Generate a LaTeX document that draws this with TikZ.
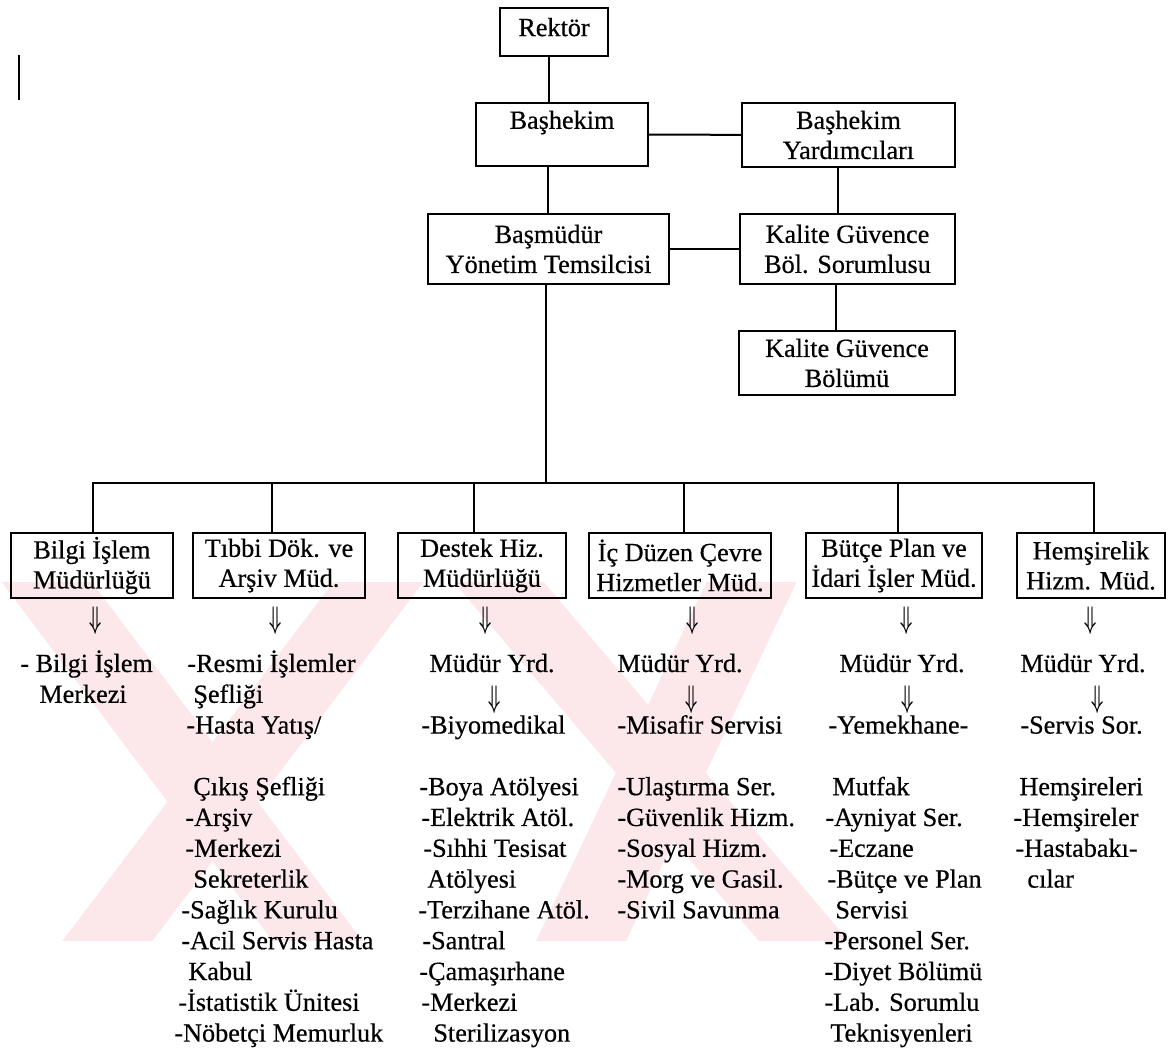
\documentclass[tikz,border=0pt]{standalone}
\usepackage{fontspec}
\setmainfont[FakeBold=0.5]{Liberation Serif}
\definecolor{wm}{RGB}{252,231,235}
\tikzset{
  box/.style={draw, line width=1pt, inner sep=0pt, align=center,
    font=\fontsize{13.1pt}{15pt}\selectfont},
  lst/.style={inner sep=0pt, anchor=base west,
    font=\fontsize{13.1pt}{15.4pt}\selectfont},
  dar/.style={inner sep=0pt, font=\fontsize{13.1pt}{15.4pt}\selectfont},
  conn/.style={line width=1pt},
  wmark/.style={fill=wm, draw=none},
}
\newcommand\li[4]{\node[lst] (#1) at (#2,#3) {#4};}
\newcommand\dn{\scalebox{0.72}[1.3]{\boldmath$\Downarrow$}}
\begin{document}
\begin{tikzpicture}[x=0.5pt,y=-0.5pt]
\useasboundingbox (0,0) rectangle (1173,1052);
% watermark
\begin{scope}
\clip (0,583) rectangle (1173,940);
\fill[wmark] (-15,560) -- (75,560) -- (377,960) -- (287,960) -- cycle;
\fill[wmark] (350,560) -- (440,560) -- (138,960) -- (48,960) -- cycle;
\fill[wmark] (435,560) -- (525,560) -- (865,960) -- (775,960) -- cycle;
\fill[wmark] (717,560) -- (807,560) -- (617,960) -- (527,960) -- cycle;
\end{scope}
% stray mark
\coordinate (s1) at (19,55);
\coordinate (s2) at (19,100);
\draw[line width=1pt] (s1) -- (s2);
% top boxes
\node[box, minimum width=54pt, minimum height=24pt, text depth=5pt] (rektor) at (554,32) {Rektör};
\node[box, minimum width=86pt, minimum height=31.5pt] (bashekim) at (562,134.5) {\raisebox{-3pt}{Başhekim}\\\phantom{Başhekim}};
\node[box, minimum width=106.5pt, minimum height=32pt] (yard) at (848.5,135) {Başhekim\\Yardımcıları};
\node[box, minimum width=120.5pt, minimum height=35pt] (basmudur) at (548.5,249) {Başmüdür\\Yönetim Temsilcisi};
\node[box, minimum width=107.5pt, minimum height=35pt] (kgbs) at (847.5,249) {Kalite Güvence\\Böl. Sorumlusu};
\node[box, minimum width=108pt, minimum height=32pt] (kgb) at (847,363) {Kalite Güvence\\Bölümü};
% bottom boxes
\node[box, minimum width=81pt, minimum height=32.5pt] (b1) at (92,565.5) {Bilgi İşlem\\Müdürlüğü};
\node[box, minimum width=86pt, minimum height=32.5pt] (b2) at (279,565.5) {Tıbbi Dök. ve\\Arşiv Müd.};
\node[box, minimum width=84pt, minimum height=32.5pt] (b3) at (482,565.5) {Destek Hiz.\\Müdürlüğü};
\node[box, minimum width=91pt, minimum height=32.5pt] (b4) at (680,565.5) {İç Düzen Çevre\\Hizmetler Müd.};
\node[box, minimum width=88pt, minimum height=32.5pt] (b5) at (894,565.5) {Bütçe Plan ve\\İdari İşler Müd.};
\node[box, minimum width=74pt, minimum height=32.5pt] (b6) at (1091,565.5) {Hemşirelik\\Hizm. Müd.};
% connectors
\draw[conn] (549,0 |- rektor.south) -- (549,0 |- bashekim.north);
\draw[conn] (bashekim) -- (yard);
\draw[conn] (548,0 |- bashekim.south) -- (548,0 |- basmudur.north);
\draw[conn] (838,0 |- yard.south) -- (838,0 |- kgbs.north);
\draw[conn] (basmudur) -- (kgbs);
\draw[conn] (836,0 |- kgbs.south) -- (836,0 |- kgb.north);
\coordinate (bus) at (546,483);
\coordinate (busL) at (93,483);
\coordinate (busR) at (1094,483);
\draw[conn] (546,0 |- basmudur.south) -- (bus);
\draw[conn] (93,0 |- b1.north) -- (busL) -- (busR) -- (1094,0 |- b6.north);
\draw[conn] (272,483) -- (272,0 |- b2.north);
\draw[conn] (474,483) -- (474,0 |- b3.north);
\draw[conn] (684,483) -- (684,0 |- b4.north);
\draw[conn] (898,483) -- (898,0 |- b5.north);
% arrows under boxes
\node[dar] (a1) at (96,621) {\dn};
\node[dar] (a2) at (276,621) {\dn};
\node[dar] (a3) at (486,621) {\dn};
\node[dar] (a4) at (693,621) {\dn};
\node[dar] (a5) at (907,621) {\dn};
\node[dar] (a6) at (1091,621) {\dn};
% column 1
\li{c1a}{20}{672}{- Bilgi İşlem}
\li{c1b}{39}{702.8}{Merkezi}
% column 2
\li{c2a}{187}{672}{-Resmi İşlemler}
\li{c2b}{193}{702.8}{Şefliği}
\li{c2c}{186}{733.6}{-Hasta Yatış/}
\li{c2d}{193}{795.2}{Çıkış Şefliği}
\li{c2e}{185}{826}{-Arşiv}
\li{c2f}{185}{856.8}{-Merkezi}
\li{c2g}{193}{887.6}{Sekreterlik}
\li{c2h}{181}{918.4}{-Sağlık Kurulu}
\li{c2i}{181}{949.2}{-Acil Servis Hasta}
\li{c2j}{188}{980}{Kabul}
\li{c2k}{178}{1010.8}{-İstatistik Ünitesi}
\li{c2l}{174}{1041.6}{-Nöbetçi Memurluk}
% column 3
\li{c3a}{429}{672}{Müdür Yrd.}
\node[dar] (c3arr) at (495,700) {\dn};
\li{c3b}{421}{733.6}{-Biyomedikal}
\li{c3c}{419}{795.2}{-Boya Atölyesi}
\li{c3d}{421}{826}{-Elektrik Atöl.}
\li{c3e}{423}{856.8}{-Sıhhi Tesisat}
\li{c3f}{427}{887.6}{Atölyesi}
\li{c3g}{418}{918.4}{-Terzihane Atöl.}
\li{c3h}{422}{949.2}{-Santral}
\li{c3i}{419}{980}{-Çamaşırhane}
\li{c3j}{421}{1010.8}{-Merkezi}
\li{c3k}{433}{1041.6}{Sterilizasyon}
% column 4
\li{c4a}{617}{672}{Müdür Yrd.}
\node[dar] (c4arr) at (692,700) {\dn};
\li{c4b}{617}{733.6}{-Misafir Servisi}
\li{c4c}{617}{795.2}{-Ulaştırma Ser.}
\li{c4d}{617}{826}{-Güvenlik Hizm.}
\li{c4e}{617}{856.8}{-Sosyal Hizm.}
\li{c4f}{617}{887.6}{-Morg ve Gasil.}
\li{c4g}{617}{918.4}{-Sivil Savunma}
% column 5
\li{c5a}{839}{672}{Müdür Yrd.}
\node[dar] (c5arr) at (908,700) {\dn};
\li{c5b}{828}{733.6}{-Yemekhane-}
\li{c5c}{832}{795.2}{Mutfak}
\li{c5d}{825}{826}{-Ayniyat Ser.}
\li{c5e}{829}{856.8}{-Eczane}
\li{c5f}{827}{887.6}{-Bütçe ve Plan}
\li{c5g}{835}{918.4}{Servisi}
\li{c5h}{824}{949.2}{-Personel Ser.}
\li{c5i}{824}{980}{-Diyet Bölümü}
\li{c5j}{824}{1010.8}{-Lab. Sorumlu}
\li{c5k}{830}{1041.6}{Teknisyenleri}
% column 6
\li{c6a}{1020}{672}{Müdür Yrd.}
\node[dar] (c6arr) at (1098,700) {\dn};
\li{c6b}{1020}{733.6}{-Servis Sor.}
\li{c6c}{1019}{795.2}{Hemşireleri}
\li{c6d}{1013}{826}{-Hemşireler}
\li{c6e}{1015}{856.8}{-Hastabakı-}
\li{c6f}{1027}{887.6}{cılar}
\end{tikzpicture}
\end{document}
